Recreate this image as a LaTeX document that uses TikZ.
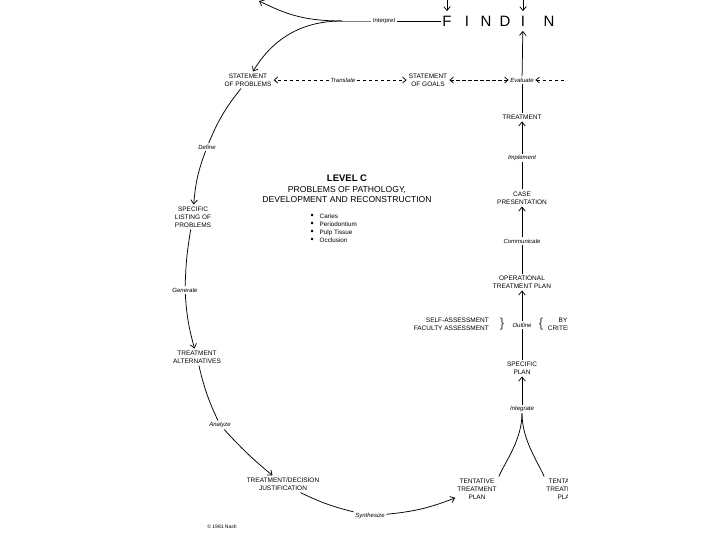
\documentclass[tikz,border=0pt]{standalone}
\usepackage{fontspec}
\setmainfont{Liberation Sans}
\usetikzlibrary{arrows.meta,calc}
\begin{document}
\begin{tikzpicture}[x=1pt,y=1pt,
  box/.style={align=center,font=\fontsize{6.5}{8}\selectfont,inner sep=2pt},
  lbl/.style={font=\fontsize{6}{7}\selectfont\itshape,inner sep=1.5pt},
  conn/.style={line width=0.75pt},
  arr/.style={conn,-{Straight Barb[length=4pt,width=6.5pt]}},
  darr/.style={conn,dash pattern=on 3.5pt off 2.5pt,-{Straight Barb[length=3.5pt,width=6pt]}},
  ddarr/.style={conn,dash pattern=on 3.5pt off 2.5pt,{Straight Barb[length=3.5pt,width=6pt]}-{Straight Barb[length=3.5pt,width=6pt]}},
  big/.style={font=\fontsize{15}{15}\selectfont,inner sep=1.5pt},
  bracetxt/.style={font=\fontsize{13}{13}\selectfont,text=black!75,inner sep=0pt}]
\useasboundingbox (0,0) rectangle (720,-540);
\begin{scope}
\clip (0,0) rectangle (567,-540);
% FINDIN
\node[big] (F) at (447,-21) {F};
\node[big] (I1) at (467,-21) {I};
\node[big] (N1) at (486,-21) {N};
\node[big] (D) at (505,-21) {D};
\node[big] (I2) at (523,-21) {I};
\node[big] (N2) at (549,-21) {N};
\coordinate (topF) at (447,0);
\coordinate (topI) at (523,0);
\draw[arr,shorten >=3pt] (topF) -- (F);
\draw[arr,shorten >=3pt] (topI) -- (I2);
% interpret
\node[lbl] (interp) at (384,-21) {Interpret};
\coordinate (cusp) at (342,-21);
\coordinate (topL) at (259,-1);
\node[box] (stprob) at (248,-80) {STATEMENT\\OF PROBLEMS};
\draw[conn,gray] (cusp) -- (interp);
\draw[conn] (interp) -- (F);
\draw[arr] (cusp) .. controls (300,-21) and (282,-12) .. (topL);
\draw[arr] (cusp) .. controls (300,-21) and (272,-40) .. (stprob.60);
% statements row
\node[box] (stgoals) at (428,-80) {STATEMENT\\OF GOALS};
\node[lbl] (transl) at (343,-80) {Translate};
\node[lbl] (eval) at (522,-80) {Evaluate};
\coordinate (offR) at (600,-80);
\draw[darr] (transl) -- (stprob);
\draw[darr] (transl) -- (stgoals);
\draw[ddarr] (stgoals) -- (eval);
\draw[darr] (offR) -- (eval);
% right column
\node[box] (treat) at (522,-117) {TREATMENT};
\draw[conn] (treat) -- (eval);
\draw[arr,shorten >=3pt] (eval) -- (I2);
\node[lbl] (impl) at (522,-158) {Implement};
\node[box] (case) at (522,-198) {CASE\\PRESENTATION};
\draw[arr] (impl) -- (treat);
\draw[conn] (case) -- (impl);
\node[lbl] (comm) at (522,-241) {Communicate};
\node[box] (opplan) at (522,-282) {OPERATIONAL\\TREATMENT PLAN};
\draw[arr] (comm) -- (case);
\draw[conn] (opplan) -- (comm);
\node[lbl] (outl) at (522,-325) {Outline};
\node[box] (specplan) at (522,-368) {SPECIFIC\\PLAN};
\draw[arr] (outl) -- (opplan);
\draw[conn] (specplan) -- (outl);
\node[box,align=right,anchor=east] (assess) at (491,-324) {SELF-ASSESSMENT\\FACULTY ASSESSMENT};
\node[bracetxt] (br1) at (502,-324) {\}};
\node[bracetxt] (br2) at (541,-324) {\{};
\node[box] (crit) at (563,-324) {BY\\CRITERIA};
\node[lbl] (integ) at (522,-409) {Integrate};
\draw[arr] (integ) -- (specplan);
\node[box] (tent1) at (477,-489) {TENTATIVE\\TREATMENT\\PLAN};
\node[box] (tent2) at (566,-489) {TENTATIVE\\TREATMENT\\PLAN};
\draw[conn] (integ.south) .. controls (522,-440) and (505,-462) .. (tent1.north east);
\draw[conn] (integ.south) .. controls (522,-440) and (538,-462) .. (tent2.north west);
% centre text
\node[align=center,font=\fontsize{8.6}{10.5}\selectfont] (lvl) at (347,-189)
  {{\fontsize{9.5}{10.5}\selectfont\bfseries LEVEL C}\\PROBLEMS OF PATHOLOGY,\\DEVELOPMENT AND RECONSTRUCTION};
\node[font=\fontsize{6.3}{8}\selectfont,align=left,anchor=west,inner sep=0pt] (list) at (310.5,-228)
  {\makebox[9pt][l]{\fontsize{9}{8}\selectfont\textbullet}Caries\\
   \makebox[9pt][l]{\fontsize{9}{8}\selectfont\textbullet}Periodontium\\
   \makebox[9pt][l]{\fontsize{9}{8}\selectfont\textbullet}Pulp Tissue\\
   \makebox[9pt][l]{\fontsize{9}{8}\selectfont\textbullet}Occlusion};
% left loop
\node[lbl] (define) at (207,-147) {Define};
\node[box] (speclist) at (193,-217) {SPECIFIC\\LISTING OF\\PROBLEMS};
\node[lbl] (gener) at (185,-290) {Generate};
\node[box] (talt) at (197,-357) {TREATMENT\\ALTERNATIVES};
\node[lbl] (analyze) at (220,-425) {Analyze};
\node[box] (just) at (283,-484) {TREATMENT/DECISION\\JUSTIFICATION};
\node[lbl] (synth) at (370,-516) {Synthesize};
\node[font=\fontsize{5}{6}\selectfont] (copy) at (222,-527) {\textcopyright\ 1981 Nash};
\draw[conn] (stprob) to[bend right=8] (define);
\draw[arr] (define) to[bend right=8] (speclist);
\draw[conn] (speclist) to[bend right=4] (gener);
\draw[arr] (gener) to[bend right=6] (talt);
\draw[conn] (talt) to[bend right=6] (analyze);
\draw[arr] (analyze) to[bend right=4] (just);
\draw[conn] (just) to[bend right=6] (synth);
\draw[arr] (synth) to[bend right=8] (tent1);
\end{scope}
\end{tikzpicture}
\end{document}
